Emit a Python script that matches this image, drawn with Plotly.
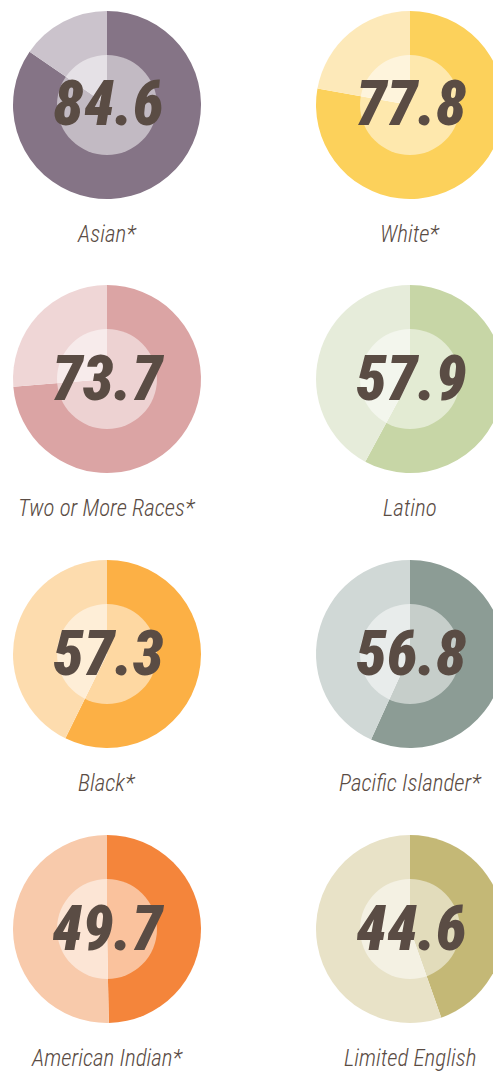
import plotly.graph_objects as go

# ---- data ----
groups = ["Asian*", "White*", "Two or More Races*", "Latino",
          "Black*", "Pacific Islander*", "American Indian*", "Limited English"]
values = [84.6, 77.8, 73.7, 57.9, 57.3, 56.8, 49.7, 44.6]
dark_colors = ["#857486", "#fcd15b", "#dba4a4", "#c7d6a6",
               "#fcb045", "#8c9c95", "#f4853b", "#c4b876"]
light_colors = ["#cbc3cc", "#fde9b9", "#efd6d6", "#e6ecda",
                "#fddcae", "#d0d8d6", "#f8caab", "#e8e2c7"]

# ---- layout geometry (pixels) ----
W, H = 506, 1071
col_x = [107, 410]
row_y = [105, 379, 654, 929]
R = 94          # pie radius
RI = 50         # inner overlay radius
LABEL_DY = 129  # label offset below pie centre
TEXT_COLOR = "#5a4c44"

fig = go.Figure()
shapes, annotations = [], []

for i, (g, v) in enumerate(zip(groups, values)):
    cx = col_x[i % 2]
    cy = row_y[i // 2]
    fig.add_trace(go.Pie(
        values=[v, 100 - v],
        labels=[g, "rest"],
        sort=False,
        direction="clockwise",
        rotation=0,
        textinfo="none",
        hoverinfo="skip",
        showlegend=False,
        marker=dict(colors=[dark_colors[i], light_colors[i]], line=dict(width=0)),
        domain=dict(x=[(cx - R) / W, (cx + R) / W],
                    y=[1 - (cy + R) / H, 1 - (cy - R) / H]),
    ))
    shapes.append(dict(
        type="circle", xref="paper", yref="paper", layer="above",
        x0=(cx - RI) / W, x1=(cx + RI) / W,
        y0=1 - (cy + RI) / H, y1=1 - (cy - RI) / H,
        fillcolor="rgba(255,255,255,0.5)", line=dict(width=0),
    ))
    annotations.append(dict(
        x=(cx + 1) / W, y=1 - (cy - 1) / H, xref="paper", yref="paper",
        text=f"{v:.1f}", showarrow=False, xanchor="center", yanchor="middle",
        font=dict(family="Roboto Condensed, Roboto, sans-serif",
                  size=62, color=TEXT_COLOR, weight=900, style="italic"),
    ))
    annotations.append(dict(
        x=cx / W, y=1 - (cy + LABEL_DY) / H, xref="paper", yref="paper",
        text=g, showarrow=False, xanchor="center", yanchor="middle",
        font=dict(family="Roboto Condensed, Roboto, sans-serif",
                  size=23, color=TEXT_COLOR, weight=300, style="italic"),
    ))

fig.update_layout(
    width=W, height=H,
    margin=dict(l=0, r=0, t=0, b=0),
    paper_bgcolor="white", plot_bgcolor="white",
    shapes=shapes, annotations=annotations,
)

fig.write_html(
    "out.html",
    config={"displayModeBar": False},
    post_script="document.body.style.margin='0';document.body.style.overflow='hidden';",
)
